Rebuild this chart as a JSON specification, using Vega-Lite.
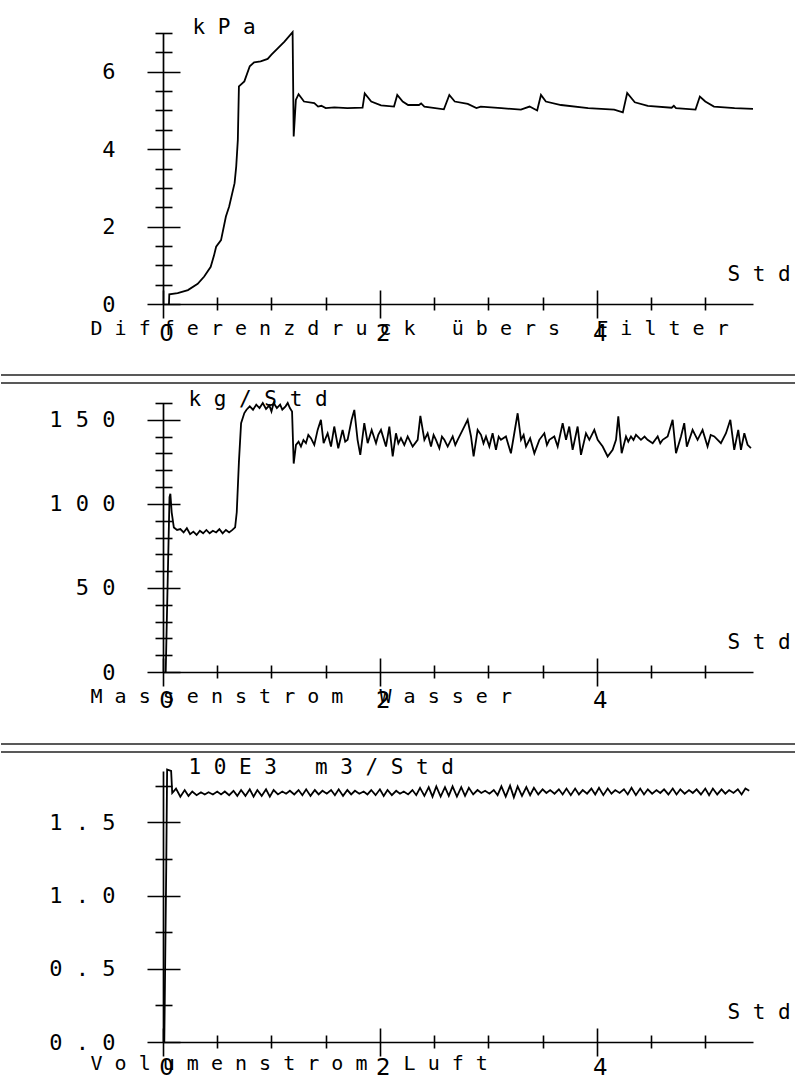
{
"$schema": "https://vega.github.io/schema/vega-lite/v6.json",
"padding": {"top": 16, "left": 0, "right": 0, "bottom": 0},
"bounds": "flush",
"spacing": 99,
"config": {
 "view": {"stroke": null},
 "axis": {"grid": false, "domainColor": "#000", "domainWidth": 1.7, "tickColor": "#000", "tickWidth": 1.6, "labelColor": "#000", "titleColor": "#000", "labelFont": "DejaVu Sans Mono", "titleFont": "DejaVu Sans Mono", "titleFontWeight": "normal", "labelFontSize": 22, "titleFontSize": 21}
},
"datasets": {
 "dp": [
  {"t":0.055,"v":0},{"t":0.058,"v":0.25},{"t":0.135,"v":0.28},{"t":0.23,"v":0.36},{"t":0.32,"v":0.52},{"t":0.38,"v":0.71},{"t":0.44,"v":0.96},{"t":0.47,"v":1.25},{"t":0.49,"v":1.48},{"t":0.535,"v":1.65},{"t":0.58,"v":2.26},{"t":0.61,"v":2.52},{"t":0.66,"v":3.12},{"t":0.675,"v":3.55},{"t":0.69,"v":4.24},{"t":0.7,"v":5.62},{"t":0.75,"v":5.75},{"t":0.8,"v":6.14},{"t":0.84,"v":6.24},{"t":0.9,"v":6.27},{"t":0.965,"v":6.33},{"t":1.0,"v":6.44},{"t":1.06,"v":6.61},{"t":1.12,"v":6.78},{"t":1.195,"v":7.02},{"t":1.205,"v":4.33},{"t":1.225,"v":5.27},{"t":1.25,"v":5.42},{"t":1.3,"v":5.23},{"t":1.395,"v":5.19},{"t":1.43,"v":5.1},{"t":1.46,"v":5.12},{"t":1.5,"v":5.06},{"t":1.58,"v":5.08},{"t":1.7,"v":5.06},{"t":1.84,"v":5.07},{"t":1.86,"v":5.44},{"t":1.92,"v":5.23},{"t":2.01,"v":5.13},{"t":2.13,"v":5.1},{"t":2.16,"v":5.4},{"t":2.21,"v":5.23},{"t":2.26,"v":5.14},{"t":2.36,"v":5.14},{"t":2.38,"v":5.18},{"t":2.41,"v":5.1},{"t":2.59,"v":5.03},{"t":2.64,"v":5.4},{"t":2.69,"v":5.23},{"t":2.81,"v":5.17},{"t":2.89,"v":5.06},{"t":2.93,"v":5.1},{"t":3.12,"v":5.06},{"t":3.3,"v":5.02},{"t":3.38,"v":5.1},{"t":3.45,"v":5.0},{"t":3.485,"v":5.4},{"t":3.53,"v":5.23},{"t":3.67,"v":5.14},{"t":3.92,"v":5.06},{"t":4.16,"v":5.02},{"t":4.24,"v":4.95},{"t":4.28,"v":5.45},{"t":4.35,"v":5.21},{"t":4.47,"v":5.12},{"t":4.69,"v":5.07},{"t":4.71,"v":5.12},{"t":4.73,"v":5.06},{"t":4.91,"v":5.02},{"t":4.95,"v":5.36},{"t":5.0,"v":5.23},{"t":5.08,"v":5.1},{"t":5.27,"v":5.06},{"t":5.44,"v":5.04}
 ],
 "ms": [
  {"t":0.025,"v":0},{"t":0.06,"v":104},{"t":0.068,"v":106},{"t":0.08,"v":95},{"t":0.1,"v":86},{"t":0.13,"v":84.5},{"t":0.16,"v":85},{"t":0.19,"v":83},{"t":0.22,"v":85.5},{"t":0.25,"v":82},{"t":0.28,"v":83.5},{"t":0.31,"v":81.5},{"t":0.34,"v":84},{"t":0.37,"v":82.5},{"t":0.4,"v":84.5},{"t":0.43,"v":82.5},{"t":0.46,"v":84},{"t":0.49,"v":83},{"t":0.52,"v":85},{"t":0.55,"v":82.5},{"t":0.58,"v":84.5},{"t":0.61,"v":83},{"t":0.64,"v":84.5},{"t":0.665,"v":86},
  {"t":0.68,"v":95},{"t":0.7,"v":125},{"t":0.72,"v":148},{"t":0.75,"v":154},{"t":0.77,"v":156},{"t":0.8,"v":158},{"t":0.83,"v":156},{"t":0.86,"v":159},{"t":0.89,"v":157},{"t":0.92,"v":160},{"t":0.95,"v":156.5},{"t":0.98,"v":158.5},{"t":1.0,"v":155},{"t":1.02,"v":160},{"t":1.05,"v":157},{"t":1.08,"v":159},{"t":1.1,"v":156},{"t":1.13,"v":158},{"t":1.15,"v":160},{"t":1.17,"v":157},{"t":1.19,"v":155},{"t":1.205,"v":124},
  {"t":1.226,"v":135.1},{"t":1.25,"v":137},{"t":1.272,"v":134.1},{"t":1.295,"v":138},{"t":1.318,"v":136.1},{"t":1.34,"v":141},{"t":1.364,"v":139.1},{"t":1.395,"v":135.1},{"t":1.426,"v":144},{"t":1.456,"v":150},{"t":1.481,"v":136.1},{"t":1.518,"v":142},{"t":1.549,"v":134.1},{"t":1.579,"v":146},{"t":1.616,"v":133.1},{"t":1.656,"v":144},{"t":1.68,"v":137},{"t":1.702,"v":138.1},{"t":1.739,"v":150},{"t":1.764,"v":155.9},{"t":1.794,"v":138.1},{"t":1.819,"v":129.1},{"t":1.856,"v":148},{"t":1.887,"v":136.1},{"t":1.924,"v":144},{"t":1.964,"v":136.1},{"t":1.985,"v":141},
  {"t":2.01,"v":144},{"t":2.056,"v":134.1},{"t":2.087,"v":146},{"t":2.118,"v":128.2},{"t":2.148,"v":142},{"t":2.17,"v":136},{"t":2.194,"v":139.1},{"t":2.225,"v":135},{"t":2.256,"v":140.1},{"t":2.302,"v":134.1},{"t":2.348,"v":138.1},{"t":2.373,"v":152.4},{"t":2.41,"v":138.1},{"t":2.44,"v":142},{"t":2.471,"v":134.1},{"t":2.495,"v":141},{"t":2.517,"v":138.1},{"t":2.548,"v":133.1},{"t":2.572,"v":140},{"t":2.594,"v":138.1},{"t":2.625,"v":134.1},{"t":2.671,"v":140.1},{"t":2.695,"v":135},{"t":2.717,"v":138.1},{"t":2.763,"v":144},{"t":2.809,"v":150},{"t":2.84,"v":140.1},{"t":2.864,"v":128.2},{"t":2.901,"v":144},{"t":2.932,"v":141.1},{"t":2.955,"v":136},{"t":2.978,"v":140.1},{"t":3.009,"v":134.1},{"t":3.039,"v":142},{"t":3.07,"v":132.1},{"t":3.095,"v":140},{"t":3.116,"v":138.1},{"t":3.162,"v":140.1},{"t":3.185,"v":135},{"t":3.208,"v":130.1},{"t":3.239,"v":142},{"t":3.27,"v":153.9},{"t":3.301,"v":138.1},{"t":3.325,"v":141},{"t":3.347,"v":134.1},{"t":3.385,"v":139},{"t":3.424,"v":130.1},{"t":3.47,"v":138.1},{"t":3.516,"v":142},{"t":3.54,"v":135},{"t":3.562,"v":138.1},{"t":3.608,"v":140.1},{"t":3.639,"v":134.1},{"t":3.685,"v":148},{"t":3.716,"v":138.1},{"t":3.746,"v":146},{"t":3.777,"v":132.1},{"t":3.823,"v":146},{"t":3.854,"v":129.2},{"t":3.9,"v":142},{"t":3.931,"v":138.1},{"t":3.977,"v":144},{"t":4.008,"v":138.1},{"t":4.054,"v":134.1},{"t":4.1,"v":128.2},{"t":4.146,"v":132.1},{"t":4.177,"v":138.1},{"t":4.198,"v":152},{"t":4.229,"v":130.1},{"t":4.269,"v":140.1},{"t":4.29,"v":137},{"t":4.315,"v":140.1},{"t":4.338,"v":138},{"t":4.361,"v":141.1},{"t":4.407,"v":138.1},{"t":4.44,"v":140},{"t":4.468,"v":138.1},{"t":4.515,"v":136.1},{"t":4.561,"v":140.1},{"t":4.585,"v":136},{"t":4.607,"v":138.1},{"t":4.653,"v":140.1},{"t":4.699,"v":150},{"t":4.73,"v":130.1},{"t":4.776,"v":140.1},{"t":4.806,"v":148},{"t":4.83,"v":134},{"t":4.852,"v":138.1},{"t":4.883,"v":144},{"t":4.929,"v":138.1},{"t":4.975,"v":144},{"t":5.021,"v":134.1},{"t":5.05,"v":141},{"t":5.083,"v":140.1},{"t":5.144,"v":136.1},{"t":5.191,"v":142},{"t":5.231,"v":150},{"t":5.267,"v":132.1},{"t":5.304,"v":144},{"t":5.329,"v":132.1},{"t":5.36,"v":142},{"t":5.39,"v":135.1},{"t":5.421,"v":133.1}
 ],
 "vs": [
  {"t":0.012,"v":0},{"t":0.03,"v":1.2},{"t":0.038,"v":1.86},{"t":0.075,"v":1.85},{"t":0.085,"v":1.7},
  {"t":0.12,"v":1.73},{"t":0.16,"v":1.675},{"t":0.2,"v":1.72},{"t":0.235,"v":1.68},{"t":0.27,"v":1.71},{"t":0.31,"v":1.685},{"t":0.35,"v":1.705},{"t":0.385,"v":1.69},{"t":0.42,"v":1.705},{"t":0.46,"v":1.69},{"t":0.5,"v":1.71},{"t":0.535,"v":1.69},{"t":0.57,"v":1.71},{"t":0.61,"v":1.685},{"t":0.65,"v":1.715},{"t":0.685,"v":1.68},{"t":0.72,"v":1.72},{"t":0.76,"v":1.68},{"t":0.8,"v":1.725},{"t":0.835,"v":1.675},{"t":0.87,"v":1.72},{"t":0.91,"v":1.68},{"t":0.95,"v":1.725},{"t":0.985,"v":1.675},{"t":1.02,"v":1.72},{"t":1.06,"v":1.69},{"t":1.1,"v":1.71},{"t":1.135,"v":1.695},{"t":1.17,"v":1.715},{"t":1.21,"v":1.69},{"t":1.25,"v":1.72},{"t":1.285,"v":1.685},{"t":1.32,"v":1.725},{"t":1.36,"v":1.68},{"t":1.4,"v":1.72},{"t":1.435,"v":1.69},{"t":1.47,"v":1.715},{"t":1.51,"v":1.695},{"t":1.55,"v":1.72},{"t":1.585,"v":1.685},{"t":1.62,"v":1.725},{"t":1.66,"v":1.68},{"t":1.7,"v":1.72},{"t":1.735,"v":1.69},{"t":1.77,"v":1.715},{"t":1.81,"v":1.695},{"t":1.85,"v":1.71},{"t":1.885,"v":1.69},{"t":1.92,"v":1.72},{"t":1.96,"v":1.685},{"t":2.0,"v":1.725},{"t":2.035,"v":1.68},{"t":2.07,"v":1.72},{"t":2.11,"v":1.685},{"t":2.15,"v":1.715},{"t":2.185,"v":1.695},{"t":2.22,"v":1.71},{"t":2.26,"v":1.69},{"t":2.3,"v":1.72},{"t":2.335,"v":1.685},{"t":2.37,"v":1.735},{"t":2.41,"v":1.68},{"t":2.45,"v":1.74},{"t":2.485,"v":1.675},{"t":2.52,"v":1.745},{"t":2.56,"v":1.675},{"t":2.6,"v":1.74},{"t":2.635,"v":1.68},{"t":2.67,"v":1.745},{"t":2.71,"v":1.675},{"t":2.75,"v":1.74},{"t":2.785,"v":1.68},{"t":2.82,"v":1.735},{"t":2.86,"v":1.69},{"t":2.9,"v":1.72},{"t":2.935,"v":1.7},{"t":2.97,"v":1.715},{"t":3.01,"v":1.695},{"t":3.05,"v":1.72},{"t":3.085,"v":1.685},{"t":3.12,"v":1.745},{"t":3.16,"v":1.675},{"t":3.2,"v":1.75},{"t":3.235,"v":1.67},{"t":3.27,"v":1.745},{"t":3.31,"v":1.68},{"t":3.35,"v":1.74},{"t":3.385,"v":1.685},{"t":3.42,"v":1.735},{"t":3.46,"v":1.69},{"t":3.5,"v":1.725},{"t":3.535,"v":1.7},{"t":3.57,"v":1.72},{"t":3.61,"v":1.695},{"t":3.65,"v":1.725},{"t":3.685,"v":1.69},{"t":3.72,"v":1.73},{"t":3.76,"v":1.685},{"t":3.8,"v":1.73},{"t":3.835,"v":1.69},{"t":3.87,"v":1.72},{"t":3.91,"v":1.695},{"t":3.95,"v":1.73},{"t":3.985,"v":1.69},{"t":4.02,"v":1.735},{"t":4.06,"v":1.685},{"t":4.1,"v":1.73},{"t":4.135,"v":1.695},{"t":4.17,"v":1.72},{"t":4.21,"v":1.7},{"t":4.25,"v":1.725},{"t":4.285,"v":1.69},{"t":4.32,"v":1.735},{"t":4.36,"v":1.685},{"t":4.4,"v":1.73},{"t":4.435,"v":1.69},{"t":4.47,"v":1.725},{"t":4.51,"v":1.695},{"t":4.55,"v":1.72},{"t":4.585,"v":1.7},{"t":4.62,"v":1.725},{"t":4.66,"v":1.69},{"t":4.7,"v":1.73},{"t":4.735,"v":1.69},{"t":4.77,"v":1.725},{"t":4.81,"v":1.695},{"t":4.85,"v":1.72},{"t":4.885,"v":1.7},{"t":4.92,"v":1.725},{"t":4.96,"v":1.69},{"t":5.0,"v":1.73},{"t":5.035,"v":1.685},{"t":5.07,"v":1.73},{"t":5.11,"v":1.69},{"t":5.15,"v":1.725},{"t":5.185,"v":1.695},{"t":5.22,"v":1.72},{"t":5.26,"v":1.7},{"t":5.3,"v":1.725},{"t":5.335,"v":1.69},{"t":5.37,"v":1.73},{"t":5.405,"v":1.715}
 ]
},
"vconcat": [
 {
  "width": 590, "height": 271,
  "data": {"name": "dp"},
  "resolve": {"axis": {"x": "independent", "y": "independent"}},
  "layer": [
   {"mark": {"type": "line", "stroke": "#000", "strokeWidth": 1.8},
    "encoding": {
     "x": {"field": "t", "type": "quantitative", "scale": {"domain": [0, 5.44], "nice": false, "zero": false},
      "axis": {"orient": "bottom", "values": [0, 2, 4], "format": "d", "ticks": false, "tickSize": 0, "labelFont": "DejaVu Sans", "labelFontSize": 23, "labelPadding": 36, "labelBaseline": "alphabetic", "labelAlign": "center", "labelOffset": 3, "labelFlush": false, "labelOverlap": false, "title": "S t d", "titleX": 564, "titleY": -24, "titleAlign": "left", "titleBaseline": "alphabetic", "titleAngle": 0}},
     "y": {"field": "v", "type": "quantitative", "scale": {"domain": [0, 7], "nice": false, "zero": false},
      "axis": {"orient": "left", "values": [0, 2, 4, 6], "format": "d", "ticks": false, "tickSize": 0, "labelPadding": 48, "labelAlign": "right", "labelBaseline": "middle", "labelFlush": false, "labelOverlap": false, "labelExpr": "join(split(datum.label, ''), ' ')", "title": "k P a", "titleX": 29, "titleY": 0, "titleAngle": 0, "titleAlign": "left", "titleBaseline": "alphabetic"}}
    }},
   {"mark": {"type": "line", "opacity": 0},
    "encoding": {
     "x": {"field": "t", "type": "quantitative", "axis": {"orient": "bottom", "offset": -14, "values": [0, 2, 4], "tickSize": 28, "domain": false, "labels": false, "title": "D i f f e r e n z d r u c k \u00a0 ü b e r s \u00a0 F i l t e r", "titleFontSize": 20, "titleX": -73, "titleY": 44, "titleAlign": "left", "titleBaseline": "alphabetic", "titleAngle": 0}},
     "y": {"field": "v", "type": "quantitative", "axis": {"orient": "left", "offset": -17, "values": [0, 2, 4, 6], "tickSize": 33, "domain": false, "labels": false, "title": null}}
    }},
   {"mark": {"type": "line", "opacity": 0},
    "encoding": {
     "x": {"field": "t", "type": "quantitative", "axis": {"orient": "bottom", "offset": -7, "values": [0.5, 1, 1.5, 2.5, 3, 3.5, 4.5, 5], "tickSize": 13, "domain": false, "labels": false, "title": null}},
     "y": {"field": "v", "type": "quantitative", "axis": {"orient": "left", "offset": -9, "values": [0.5, 1, 1.5, 2.5, 3, 3.5, 4.5, 5, 5.5, 6.5, 7], "tickSize": 17, "domain": false, "labels": false, "title": null}}
    }}
  ]
 },
 {
  "width": 590, "height": 269,
  "data": {"name": "ms"},
  "resolve": {"axis": {"x": "independent", "y": "independent"}},
  "layer": [
   {"data": {"values": [{"sep": "a"}]},
    "mark": {"type": "rule", "stroke": "#222", "strokeWidth": 1.5},
    "encoding": {"x": {"datum": -1.4937, "type": "quantitative", "axis": null}, "x2": {"datum": 5.836}, "y": {"datum": 176.65, "type": "quantitative", "axis": null}}},
   {"data": {"values": [{"sep": "b"}]},
    "mark": {"type": "rule", "stroke": "#222", "strokeWidth": 1.5},
    "encoding": {"x": {"datum": -1.4937, "type": "quantitative", "axis": null}, "x2": {"datum": 5.836}, "y": {"datum": 171.9, "type": "quantitative", "axis": null}}},
   {"mark": {"type": "line", "stroke": "#000", "strokeWidth": 1.8},
    "encoding": {
     "x": {"field": "t", "type": "quantitative", "scale": {"domain": [0, 5.44], "nice": false, "zero": false},
      "axis": {"orient": "bottom", "values": [0, 2, 4], "format": "d", "ticks": false, "tickSize": 0, "labelFont": "DejaVu Sans", "labelFontSize": 23, "labelPadding": 35, "labelBaseline": "alphabetic", "labelAlign": "center", "labelOffset": 3, "labelFlush": false, "labelOverlap": false, "title": "S t d", "titleX": 564, "titleY": -24, "titleAlign": "left", "titleBaseline": "alphabetic", "titleAngle": 0}},
     "y": {"field": "v", "type": "quantitative", "scale": {"domain": [0, 160], "nice": false, "zero": false},
      "axis": {"orient": "left", "values": [0, 50, 100, 150], "format": "d", "ticks": false, "tickSize": 0, "labelPadding": 48, "labelAlign": "right", "labelBaseline": "middle", "labelFlush": false, "labelOverlap": false, "labelExpr": "join(split(datum.label, ''), ' ')", "title": "k g / S t d", "titleX": 25, "titleY": 2, "titleAngle": 0, "titleAlign": "left", "titleBaseline": "alphabetic"}}
    }},
   {"mark": {"type": "line", "opacity": 0},
    "encoding": {
     "x": {"field": "t", "type": "quantitative", "axis": {"orient": "bottom", "offset": -14, "values": [0, 2, 4], "tickSize": 28, "domain": false, "labels": false, "title": "M a s s e n s t r o m \u00a0 W a s s e r", "titleFontSize": 20, "titleX": -73, "titleY": 44, "titleAlign": "left", "titleBaseline": "alphabetic", "titleAngle": 0}},
     "y": {"field": "v", "type": "quantitative", "axis": {"orient": "left", "offset": -17, "values": [0, 50, 100, 150], "tickSize": 33, "domain": false, "labels": false, "title": null}}
    }},
   {"mark": {"type": "line", "opacity": 0},
    "encoding": {
     "x": {"field": "t", "type": "quantitative", "axis": {"orient": "bottom", "offset": -7, "values": [0.5, 1, 1.5, 2.5, 3, 3.5, 4.5, 5], "tickSize": 13, "domain": false, "labels": false, "title": null}},
     "y": {"field": "v", "type": "quantitative", "axis": {"orient": "left", "offset": -9, "values": [10, 20, 30, 40, 60, 70, 80, 90, 110, 120, 130, 140, 160], "tickSize": 17, "domain": false, "labels": false, "title": null}}
    }}
  ]
 },
 {
  "width": 590, "height": 271,
  "data": {"name": "vs"},
  "resolve": {"axis": {"x": "independent", "y": "independent"}},
  "layer": [
   {"data": {"values": [{"sep": "a"}]},
    "mark": {"type": "rule", "stroke": "#222", "strokeWidth": 1.5},
    "encoding": {"x": {"datum": -1.4937, "type": "quantitative", "axis": null}, "x2": {"datum": 5.836}, "y": {"datum": 2.034, "type": "quantitative", "axis": null}}},
   {"data": {"values": [{"sep": "b"}]},
    "mark": {"type": "rule", "stroke": "#222", "strokeWidth": 1.5},
    "encoding": {"x": {"datum": -1.4937, "type": "quantitative", "axis": null}, "x2": {"datum": 5.836}, "y": {"datum": 1.98, "type": "quantitative", "axis": null}}},
   {"mark": {"type": "line", "stroke": "#000", "strokeWidth": 1.8},
    "encoding": {
     "x": {"field": "t", "type": "quantitative", "scale": {"domain": [0, 5.44], "nice": false, "zero": false},
      "axis": {"orient": "bottom", "values": [0, 2, 4], "format": "d", "ticks": false, "tickSize": 0, "labelFont": "DejaVu Sans", "labelFontSize": 23, "labelPadding": 32, "labelBaseline": "alphabetic", "labelAlign": "center", "labelOffset": 3, "labelFlush": false, "labelOverlap": false, "title": "S t d", "titleX": 564, "titleY": -24, "titleAlign": "left", "titleBaseline": "alphabetic", "titleAngle": 0}},
     "y": {"field": "v", "type": "quantitative", "scale": {"domain": [0, 1.85], "nice": false, "zero": false},
      "axis": {"orient": "left", "values": [0, 0.5, 1, 1.5], "format": ".1f", "ticks": false, "tickSize": 0, "labelPadding": 48, "labelAlign": "right", "labelBaseline": "middle", "labelFlush": false, "labelOverlap": false, "labelExpr": "join(split(datum.label, ''), ' ')", "title": "1 0 E 3 \u00a0 m 3 / S t d", "titleX": 25, "titleY": 2, "titleAngle": 0, "titleAlign": "left", "titleBaseline": "alphabetic"}}
    }},
   {"mark": {"type": "line", "opacity": 0},
    "encoding": {
     "x": {"field": "t", "type": "quantitative", "axis": {"orient": "bottom", "offset": -14, "values": [0, 2, 4], "tickSize": 28, "domain": false, "labels": false, "title": "V o l u m e n s t r o m \u00a0 L u f t", "titleFontSize": 20, "titleX": -73, "titleY": 41, "titleAlign": "left", "titleBaseline": "alphabetic", "titleAngle": 0}},
     "y": {"field": "v", "type": "quantitative", "axis": {"orient": "left", "offset": -17, "values": [0, 0.5, 1, 1.5], "tickSize": 33, "domain": false, "labels": false, "title": null}}
    }},
   {"mark": {"type": "line", "opacity": 0},
    "encoding": {
     "x": {"field": "t", "type": "quantitative", "axis": {"orient": "bottom", "offset": -7, "values": [0.5, 1, 1.5, 2.5, 3, 3.5, 4.5, 5], "tickSize": 13, "domain": false, "labels": false, "title": null}},
     "y": {"field": "v", "type": "quantitative", "axis": {"orient": "left", "offset": -9, "values": [0.25, 0.75, 1.25, 1.75], "tickSize": 17, "domain": false, "labels": false, "title": null}}
    }}
  ]
 }
]
}
